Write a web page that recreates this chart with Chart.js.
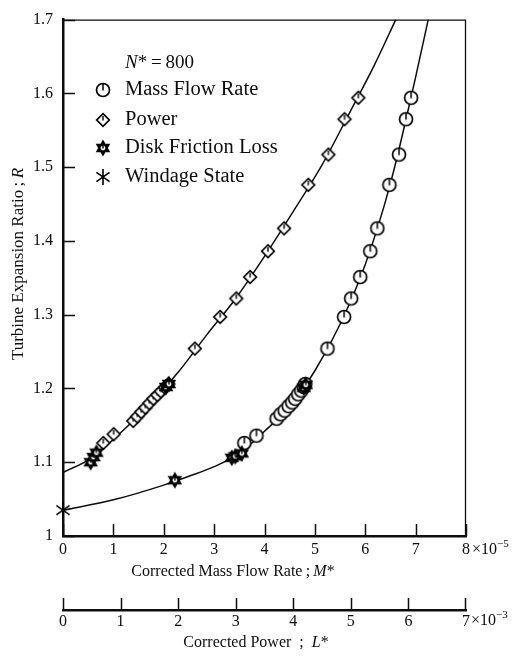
<!DOCTYPE html>
<html>
<head>
<meta charset="utf-8">
<script src="https://cdn.jsdelivr.net/npm/chart.js@4"></script>
<style>
  body { margin: 0; background: #fff; }
  #wrap { width: 526px; height: 657px; position: relative; }
</style>
</head>
<body>
<div id="wrap"><canvas id="chart"></canvas></div>
<script>
// Operating points (N* = 800)
const massFlowM = [3.60, 3.84, 4.24, 4.32, 4.40, 4.48, 4.55, 4.61, 4.67, 4.73, 4.78, 4.81, 5.25, 5.58, 5.72, 5.90, 6.10, 6.24, 6.48, 6.67, 6.81, 6.91];
const massFlowR = [1.126, 1.136, 1.159, 1.165, 1.170, 1.176, 1.181, 1.186, 1.192, 1.197, 1.202, 1.206, 1.254, 1.297, 1.322, 1.351, 1.386, 1.417, 1.476, 1.517, 1.565, 1.594];

const powerL = [0.70, 0.88, 1.22, 1.29, 1.36, 1.43, 1.50, 1.57, 1.64, 1.70, 1.77, 1.83, 2.29, 2.73, 3.01, 3.25, 3.56, 3.84, 4.26, 4.61, 4.89, 5.13];
const powerR = [1.126, 1.138, 1.156, 1.162, 1.168, 1.174, 1.180, 1.186, 1.191, 1.196, 1.201, 1.206, 1.254, 1.297, 1.322, 1.351, 1.386, 1.417, 1.476, 1.517, 1.565, 1.594];

const frictionMassM = [2.22, 3.35, 3.42, 3.55, 4.78, 4.82];
const frictionMassR = [1.0756, 1.106, 1.108, 1.112, 1.201, 1.205];
const frictionPowerL = [0.48, 0.53, 0.58, 1.79, 1.84];
const frictionPowerR = [1.100, 1.107, 1.113, 1.202, 1.206];

const windageM = [0];
const windageR = [1.035];

// fitted curves
const massCurveM = [0, 1, 2, 2.5, 3, 3.5, 4, 4.5, 5, 5.5, 6, 6.5, 7, 7.25];
const massCurveR = [1.035, 1.049, 1.069, 1.081, 1.094, 1.112, 1.142, 1.176, 1.224, 1.287, 1.368, 1.478, 1.622, 1.70];
const powerCurveL = [0, 0.5, 1.0, 1.5, 2.0, 2.5, 3.0, 3.5, 4.0, 4.5, 5.0, 5.4, 5.78];
const powerCurveR = [1.086, 1.106, 1.140, 1.178, 1.222, 1.273, 1.322, 1.379, 1.440, 1.503, 1.577, 1.637, 1.70];

const massTicks = [0, 1, 2, 3, 4, 5, 6, 7, 8];
const powerTicks = [0, 1, 2, 3, 4, 5, 6, 7];
const ratioTicks = [1, 1.1, 1.2, 1.3, 1.4, 1.5, 1.6, 1.7];

const ink = '#0d0d0d';
const serif = '"Liberation Serif", "DejaVu Serif", serif';

function toPoints(xs, ys) {
    return xs.map((v, i) => ({ x: v, y: ys[i] }));
}

// Marker glyphs drawn on small canvases, used as point styles
function makeMarker(kind) {
    const c = document.createElement('canvas');
    c.width = 20;
    c.height = 20;
    const g = c.getContext('2d');
    const m = 10;
    g.strokeStyle = '#000';
    g.fillStyle = '#fff';
    g.lineWidth = 1.7;
    g.beginPath();
    if (kind === 'circle') {
        g.arc(m, m, 6.5, 0, Math.PI * 2);
        g.fill();
        g.stroke();
        g.beginPath();
        g.lineWidth = 1.5;
        g.moveTo(m, m + 0.5);
        g.lineTo(m, m - 6);
        g.stroke();
    } else if (kind === 'diamond') {
        g.moveTo(m, m - 6.3);
        g.lineTo(m + 6.3, m);
        g.lineTo(m, m + 6.3);
        g.lineTo(m - 6.3, m);
        g.closePath();
        g.fill();
        g.stroke();
        g.beginPath();
        g.lineWidth = 1.4;
        g.moveTo(m, m + 0.5);
        g.lineTo(m, m - 4);
        g.stroke();
    } else if (kind === 'star') {
        const r = 6.4;
        [0, Math.PI].forEach(off => {
            for (let k = 0; k < 3; k++) {
                const a = off - Math.PI / 2 + k * 2 * Math.PI / 3;
                const px = m + r * Math.cos(a), py = m + r * Math.sin(a);
                if (k === 0) g.moveTo(px, py); else g.lineTo(px, py);
            }
            g.closePath();
        });
        g.fill();
        g.lineWidth = 2;
        g.stroke();
        g.beginPath();
        g.lineWidth = 1.4;
        g.moveTo(m, m + 0.5);
        g.lineTo(m, m - 3.5);
        g.stroke();
    } else if (kind === 'asterisk') {
        const r = 8;
        [90, 35, 145].forEach(deg => {
            const a = deg * Math.PI / 180;
            g.moveTo(m - r * Math.cos(a), m - r * Math.sin(a));
            g.lineTo(m + r * Math.cos(a), m + r * Math.sin(a));
        });
        g.lineWidth = 1.6;
        g.stroke();
    }
    return c;
}

const markers = {
    circle: makeMarker('circle'),
    diamond: makeMarker('diamond'),
    star: makeMarker('star'),
    asterisk: makeMarker('asterisk')
};

// draw text made of plain / italic / raised parts
function drawRich(ctx, parts, x, y, size, align) {
    const fontOf = p => (p.i ? 'italic ' : '') + (p.sup ? Math.round(size * 0.68) : size) + 'px ' + serif;
    let total = 0;
    parts.forEach(p => { ctx.font = fontOf(p); total += ctx.measureText(p.t).width; });
    let cx = align === 'center' ? x - total / 2 : (align === 'right' ? x - total : x);
    ctx.textAlign = 'left';
    ctx.textBaseline = 'middle';
    parts.forEach(p => {
        ctx.font = fontOf(p);
        ctx.fillText(p.t, cx, p.sup ? y - size * 0.36 : y);
        cx += ctx.measureText(p.t).width;
    });
}

const decorPlugin = {
    id: 'decor',
    afterDraw(chart) {
        const { ctx, chartArea: a, scales } = chart;
        const { x, y, x2 } = scales;
        ctx.save();
        ctx.strokeStyle = ink;
        ctx.fillStyle = ink;

        // thin top and right frame
        ctx.lineWidth = 1.3;
        ctx.beginPath();
        ctx.moveTo(a.left, a.top + 0.5);
        ctx.lineTo(a.right - 0.5, a.top + 0.5);
        ctx.lineTo(a.right - 0.5, a.bottom);
        ctx.stroke();

        // inward tick marks
        ctx.beginPath();
        ctx.lineWidth = 1.5;
        y.ticks.forEach(t => {
            const py = Math.round(y.getPixelForValue(t.value)) + 0.5;
            ctx.moveTo(a.left, py);
            ctx.lineTo(a.left + 12, py);
        });
        x.ticks.forEach(t => {
            const px = Math.round(x.getPixelForValue(t.value)) + 0.5;
            ctx.moveTo(px, a.bottom);
            ctx.lineTo(px, a.bottom - 12);
        });
        x2.ticks.forEach(t => {
            let px = Math.round(x2.getPixelForValue(t.value)) + 0.5;
            if (t.value === 7) px -= 1;
            ctx.moveTo(px, x2.top);
            ctx.lineTo(px, x2.top - 12);
        });
        ctx.stroke();

        // exponent labels
        drawRich(ctx, [{ t: '\u00d710' }, { t: '\u22125', sup: true }], x.getPixelForValue(8) + 6, 550, 16, 'left');
        drawRich(ctx, [{ t: '\u00d710' }, { t: '\u22123', sup: true }], x2.getPixelForValue(7) + 5, 621, 16, 'left');

        // axis titles
        drawRich(ctx, [{ t: 'Corrected Mass Flow Rate\u2009;\u2009' }, { t: 'M', i: true }, { t: '*' }], 233, 572, 16, 'center');
        drawRich(ctx, [{ t: 'Corrected Power\u2002;\u2002' }, { t: 'L', i: true }, { t: '*' }], 256, 643, 16, 'center');
        ctx.save();
        ctx.translate(19, 264);
        ctx.rotate(-Math.PI / 2);
        drawRich(ctx, [{ t: 'Turbine Expansion Ratio\u2009;\u2009' }, { t: 'R', i: true }], 0, 0, 17, 'center');
        ctx.restore();

        // legend
        drawRich(ctx, [{ t: 'N', i: true }, { t: '*' }, { t: '\u2009=\u2009800' }], 125, 63, 19, 'left');
        const rows = [
            ['circle', 'Mass Flow Rate', 90],
            ['diamond', 'Power', 120],
            ['star', 'Disk Friction Loss', 148],
            ['asterisk', 'Windage State', 177]
        ];
        rows.forEach(([kind, label, ry]) => {
            const img = markers[kind];
            ctx.drawImage(img, 103 - img.width / 2, ry - img.height / 2);
            drawRich(ctx, [{ t: label }], 125, ry, 20.5, 'left');
        });
        ctx.restore();
    }
};

const tickFont = { family: serif, size: 16 };

new Chart(document.getElementById('chart'), {
    type: 'scatter',
    data: {
        datasets: [
            {
                label: 'Mass Flow Curve',
                data: toPoints(massCurveM, massCurveR),
                showLine: true,
                pointRadius: 0,
                borderColor: ink,
                borderWidth: 1.5,
                cubicInterpolationMode: 'monotone',
                xAxisID: 'x',
                order: 10
            },
            {
                label: 'Power Curve',
                data: toPoints(powerCurveL, powerCurveR),
                showLine: true,
                pointRadius: 0,
                borderColor: ink,
                borderWidth: 1.5,
                cubicInterpolationMode: 'monotone',
                xAxisID: 'x2',
                order: 10
            },
            {
                label: 'Mass Flow Rate',
                data: toPoints(massFlowM, massFlowR),
                pointStyle: markers.circle,
                xAxisID: 'x',
                order: 2
            },
            {
                label: 'Power',
                data: toPoints(powerL, powerR),
                pointStyle: markers.diamond,
                xAxisID: 'x2',
                order: 2
            },
            {
                label: 'Disk Friction Loss',
                data: toPoints(frictionMassM, frictionMassR),
                pointStyle: markers.star,
                xAxisID: 'x',
                order: 1
            },
            {
                label: 'Disk Friction Loss (power)',
                data: toPoints(frictionPowerL, frictionPowerR),
                pointStyle: markers.star,
                xAxisID: 'x2',
                order: 1
            },
            {
                label: 'Windage State',
                data: toPoints(windageM, windageR),
                pointStyle: markers.asterisk,
                xAxisID: 'x',
                order: 1,
                clip: false
            }
        ]
    },
    options: {
        responsive: true,
        maintainAspectRatio: false,
        animation: false,
        layout: { padding: { left: 0, right: 60, top: 18, bottom: 0 } },
        plugins: {
            legend: { display: false },
            tooltip: { enabled: false }
        },
        scales: {
            x: {
                type: 'linear',
                position: 'bottom',
                weight: 0,
                min: 0,
                max: 8,
                afterBuildTicks: scale => { scale.ticks = massTicks.map(v => ({ value: v })); },
                afterFit: scale => { scale.height = 74; },
                grid: { display: false, drawTicks: false },
                border: { display: true, color: ink, width: 2.5 },
                ticks: { color: ink, font: tickFont, padding: 4, maxRotation: 0 }
            },
            x2: {
                type: 'linear',
                position: 'bottom',
                weight: 1,
                min: 0,
                max: 7,
                afterBuildTicks: scale => { scale.ticks = powerTicks.map(v => ({ value: v })); },
                afterFit: scale => { scale.height = 47; },
                grid: { display: false, drawTicks: false },
                border: { display: true, color: ink, width: 2.5 },
                ticks: { color: ink, font: tickFont, padding: 2, maxRotation: 0 }
            },
            y: {
                type: 'linear',
                min: 1,
                max: 1.7,
                afterBuildTicks: scale => { scale.ticks = ratioTicks.map(v => ({ value: v })); },
                afterFit: scale => { scale.width = 63; },
                grid: { display: false, drawTicks: false },
                border: { display: true, color: ink, width: 2.5 },
                ticks: {
                    color: ink,
                    font: tickFont,
                    padding: 10,
                    callback: v => (Math.abs(v - 1) < 1e-9 ? '1' : v.toFixed(1))
                }
            }
        }
    },
    plugins: [decorPlugin]
});
</script>
</body>
</html>
